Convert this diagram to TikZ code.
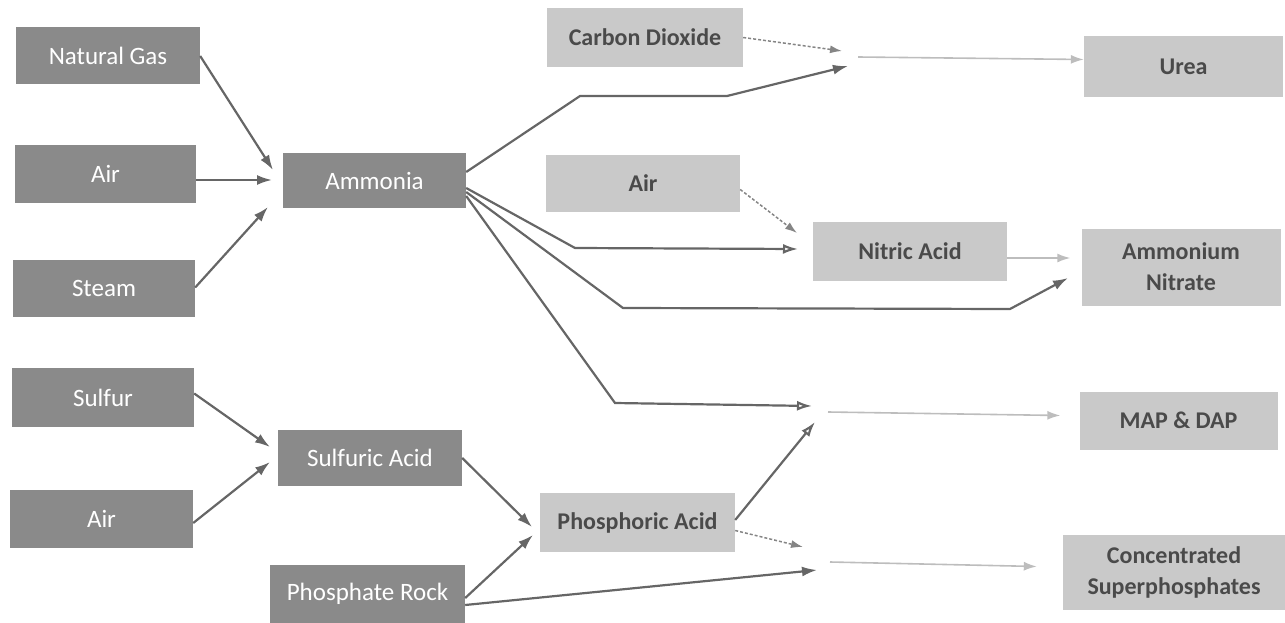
\documentclass[tikz,border=0pt]{standalone}
\usepackage{fontspec}
\setmainfont{Carlito}
\usetikzlibrary{arrows.meta}
\definecolor{darkbox}{HTML}{8A8A8A}
\definecolor{lightbox}{HTML}{C9C9C9}
\definecolor{lighttext}{HTML}{4A4A4A}
\definecolor{arrowdark}{HTML}{666666}
\definecolor{arrowlight}{HTML}{BDBDBD}
\tikzset{
  dbox/.style={rectangle, fill=darkbox, text=white, inner sep=0pt, align=center,
    font=\fontsize{25}{30}\selectfont},
  lbox/.style={rectangle, fill=lightbox, text=lighttext, inner sep=0pt, align=center,
    font=\fontsize{24}{31}\selectfont\bfseries},
  conn/.style={draw=arrowdark, line width=2.2pt, -{Latex[length=15pt,width=10pt]}},
  oconn/.style={draw=arrowdark, line width=2.2pt, -{Latex[open,length=15pt,width=10pt]}},
  dconn/.style={draw=arrowdark!80, line width=1.5pt, densely dashed, -{Latex[length=12pt,width=8pt]}},
  lconn/.style={draw=arrowlight, line width=1.6pt, -{Latex[length=13pt,width=9pt]}},
}
\begin{document}
\begin{tikzpicture}[x=1pt,y=-1pt]
\useasboundingbox (0,0) rectangle (1285,623);
% left column
\node[dbox, minimum width=184pt, minimum height=57pt] (ng) at (108,56) {Natural Gas};
\node[dbox, minimum width=181pt, minimum height=58pt] (air1) at (105.5,174) {Air};
\node[dbox, minimum width=182pt, minimum height=57pt] (steam) at (104,288.5) {Steam};
\node[dbox, minimum width=182pt, minimum height=59pt] (sulfur) at (103,397.5) {Sulfur};
\node[dbox, minimum width=183pt, minimum height=58pt] (air2) at (101.5,519) {Air};
% second column
\node[dbox, minimum width=183pt, minimum height=55pt] (amm) at (374.5,180.5) {Ammonia};
\node[dbox, minimum width=184pt, minimum height=56pt] (sulf) at (370,458) {Sulfuric Acid};
\node[dbox, minimum width=195pt, minimum height=58pt] (prock) at (367.5,594) {Phosphate Rock};
% third column
\node[lbox, minimum width=196pt, minimum height=59pt] (co2) at (645,37.5) {Carbon Dioxide};
\node[lbox, minimum width=194pt, minimum height=57pt] (air3) at (643,183.5) {Air};
\node[lbox, minimum width=194pt, minimum height=59pt] (nitric) at (910,251.5) {Nitric Acid};
\node[lbox, minimum width=195pt, minimum height=59pt] (phos) at (637.5,522.5) {Phosphoric Acid};
% products
\node[lbox, minimum width=199pt, minimum height=61pt] (urea) at (1183.5,66.5) {Urea};
\node[lbox, minimum width=199pt, minimum height=77pt] (an) at (1181,267) {Ammonium\\Nitrate};
\node[lbox, minimum width=198pt, minimum height=58pt] (map) at (1178.5,420.5) {MAP \& DAP};
\node[lbox, minimum width=222pt, minimum height=75pt] (conc) at (1174,572.5) {Concentrated\\Superphosphates};
% junction coordinates
\coordinate (nhin1) at (273,170);
\coordinate (nhin2) at (272,180);
\coordinate (nhin3) at (268,207);
\coordinate (shin1) at (270,447);
\coordinate (shin2) at (270,462);
\coordinate (phin1) at (532,527);
\coordinate (phin2) at (533,535);
\coordinate (ujA) at (842,51);
\coordinate (ujB) at (848,66);
\coordinate (ujOut) at (858,57);
\coordinate (njA) at (797,233);
\coordinate (njB) at (798,249);
\coordinate (anIn) at (1068,278);
\coordinate (mjA) at (812,406);
\coordinate (mjB) at (815,422);
\coordinate (mjOut) at (828,412);
\coordinate (cjA) at (803,547);
\coordinate (cjB) at (817,570);
\coordinate (cjOut) at (830,562);
% inputs to ammonia
\draw[conn] (ng.east) -- (nhin1);
\draw[conn] ([yshift=-6pt]air1.east) -- (nhin2);
\draw[conn] ([yshift=1pt]steam.east) -- (nhin3);
% inputs to sulfuric acid
\draw[conn] ([yshift=4pt]sulfur.east) -- (shin1);
\draw[conn] ([yshift=-4pt]air2.east) -- (shin2);
% to phosphoric acid
\draw[conn] (sulf.east) -- (phin1);
\draw[conn] ([yshift=-4pt]prock.east) -- (phin2);
% urea
\draw[dconn] (co2.east) -- (ujA);
\draw[conn] ([yshift=8.5pt]amm.east) -- (580,96) -- (727,96) -- (ujB);
\draw[lconn] (ujOut) -- ([yshift=7pt]urea.west);
% nitric acid and ammonium nitrate
\draw[dconn] ([yshift=-6pt]air3.east) -- (njA);
\draw[oconn] ([yshift=-7.5pt]amm.east) -- (575,248) -- (njB);
\draw[conn] ([yshift=-11.5pt]amm.east) -- (623,308) -- (1010,309) -- (anIn);
\draw[lconn] ([yshift=-6.5pt]nitric.east) -- ([xshift=-11pt,yshift=9pt]an.west);
% MAP & DAP
\draw[oconn] ([yshift=-15.5pt]amm.east) -- (615,403) -- (mjA);
\draw[oconn] ([yshift=2.5pt]phos.east) -- (mjB);
\draw[lconn] (mjOut) -- ([xshift=-19pt,yshift=5pt]map.west);
% concentrated superphosphates
\draw[dconn] ([yshift=-8pt]phos.east) -- (cjA);
\draw[conn] ([yshift=-11pt]prock.east) -- (cjB);
\draw[lconn] (cjOut) -- ([xshift=-26pt,yshift=6pt]conc.west);
\end{tikzpicture}
\end{document}
